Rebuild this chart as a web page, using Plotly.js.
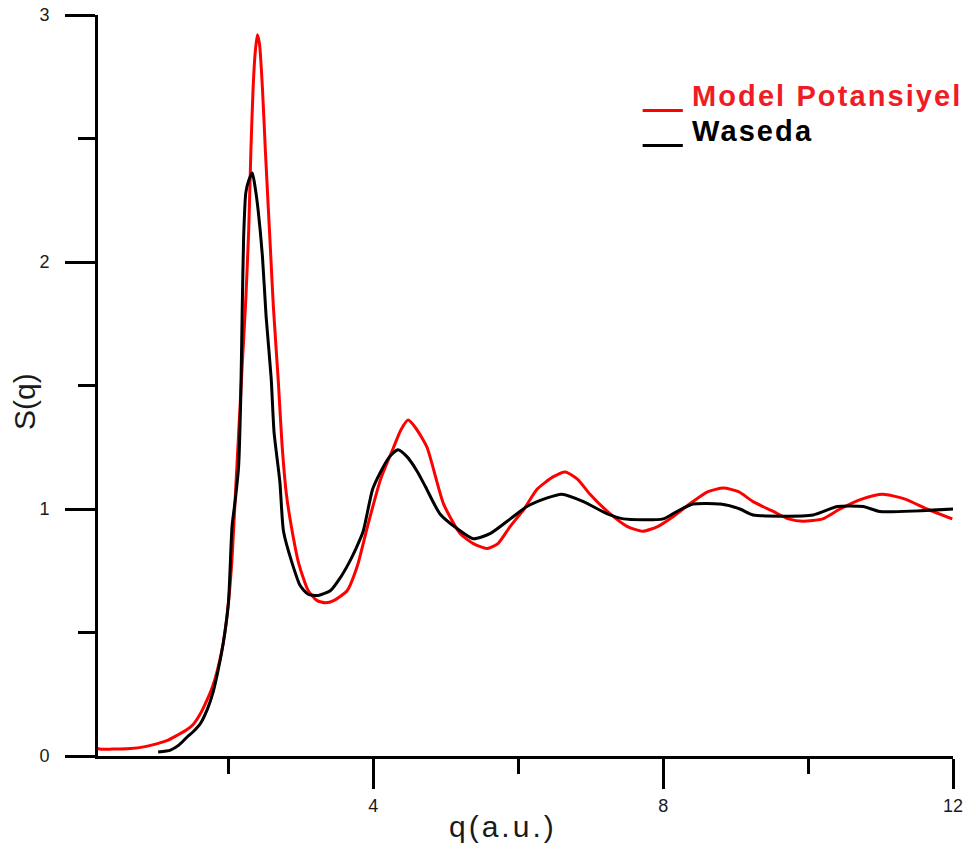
<!DOCTYPE html>
<html>
<head>
<meta charset="utf-8">
<script src="https://cdn.plot.ly/plotly-3.0.1.min.js"></script>
<style>
html,body{margin:0;padding:0;background:#fff;}
#chart{width:976px;height:851px;}
</style>
</head>
<body>
<div id="chart"></div>
<script>
// Model Potansiyel (red)
const qModel = [0.1,0.2,0.4,0.65,0.85,1.02,1.15,1.30,1.42,1.52,1.62,1.71,1.78,1.85,1.93,2.0,2.05,2.10,2.14,2.19,2.24,2.28,2.31,2.34,2.37,2.40,2.43,2.47,2.51,2.55,2.58,2.62,2.69,2.74,2.80,2.88,2.97,3.10,3.22,3.34,3.46,3.64,3.78,3.92,4.10,4.28,4.38,4.48,4.58,4.74,4.97,5.20,5.38,5.57,5.72,5.89,6.08,6.26,6.48,6.65,6.82,6.99,7.27,7.50,7.72,7.93,8.14,8.41,8.62,8.83,9.04,9.24,9.52,9.73,9.93,10.20,10.44,10.74,11.03,11.34,11.64,11.99];
const sModel = [0.07,0.03,0.028,0.03,0.038,0.05,0.062,0.085,0.105,0.13,0.175,0.23,0.28,0.35,0.46,0.62,0.80,1.08,1.30,1.58,1.85,2.13,2.45,2.70,2.85,2.92,2.88,2.70,2.45,2.22,2.05,1.82,1.51,1.26,1.06,0.91,0.78,0.67,0.63,0.62,0.63,0.67,0.77,0.93,1.12,1.25,1.32,1.36,1.33,1.25,1.02,0.90,0.86,0.84,0.86,0.93,1.00,1.08,1.13,1.15,1.12,1.06,0.98,0.93,0.91,0.93,0.97,1.03,1.07,1.085,1.07,1.03,0.99,0.96,0.95,0.96,1.00,1.04,1.06,1.04,1.00,0.96];

// Waseda (black)
const qWaseda = [1.03,1.20,1.32,1.43,1.52,1.61,1.71,1.79,1.86,1.93,2.0,2.05,2.10,2.14,2.17,2.19,2.21,2.24,2.28,2.33,2.37,2.41,2.47,2.52,2.59,2.63,2.71,2.76,2.88,2.99,3.10,3.24,3.41,3.54,3.66,3.76,3.86,3.99,4.10,4.22,4.34,4.47,4.61,4.72,4.92,5.16,5.38,5.61,5.89,6.12,6.40,6.60,6.90,7.23,7.45,8.0,8.19,8.41,8.79,9.06,9.24,10.07,10.40,10.76,10.99,12.0];
const sWaseda = [0.016,0.024,0.045,0.077,0.10,0.13,0.19,0.26,0.35,0.46,0.62,0.93,1.05,1.17,1.45,1.80,2.10,2.28,2.33,2.36,2.30,2.21,2.02,1.78,1.53,1.31,1.11,0.91,0.78,0.69,0.655,0.65,0.67,0.72,0.78,0.84,0.91,1.08,1.15,1.21,1.24,1.21,1.15,1.09,0.98,0.92,0.88,0.90,0.96,1.01,1.045,1.06,1.03,0.98,0.96,0.96,0.99,1.02,1.02,1.00,0.976,0.976,1.01,1.01,0.99,1.00];

const legendNames = ["Model Potansiyel", "Waseda"];
const seriesColors = ["#ff0000", "#000000"];
const xTitle = "q(a.u.)";
const yTitle = "S(q)";

const xMajor = [4, 8, 12];
const xMinor = [2, 6, 10];
const yMajor = [0, 1, 2, 3];
const yMinor = [0.5, 1.5, 2.5];

const traces = [
  {x: qModel, y: sModel, name: legendNames[0], mode: "lines",
   line: {color: seriesColors[0], width: 3, shape: "spline", smoothing: 0.6}},
  {x: qWaseda, y: sWaseda, name: legendNames[1], mode: "lines",
   line: {color: seriesColors[1], width: 3, shape: "spline", smoothing: 0.6}}
];

const FONT = "Arial, 'Liberation Sans', sans-serif";
const tickFont = {family: FONT, size: 18, color: "#1a1a1a"};
const layout = {
  width: 976, height: 851,
  margin: {l: 98, r: 23, t: 15, b: 95},
  paper_bgcolor: "#ffffff", plot_bgcolor: "#ffffff",
  showlegend: false,
  xaxis: {
    range: [0.2, 12], showgrid: false, zeroline: false,
    showline: true, linecolor: "#000", linewidth: 3,
    tickmode: "array", tickvals: xMajor, ticktext: xMajor.map(String),
    ticks: "outside", ticklen: 30, tickwidth: 3, tickcolor: "#000",
    ticklabelstandoff: 1,
    minor: {tickmode: "array", tickvals: xMinor, ticks: "outside", ticklen: 15, tickwidth: 3, tickcolor: "#000"},
    tickfont: tickFont
  },
  yaxis: {
    range: [0, 3], showgrid: false, zeroline: false,
    showline: true, linecolor: "#000", linewidth: 3,
    tickmode: "array", tickvals: yMajor, ticktext: yMajor.map(String),
    ticks: "outside", ticklen: 30, tickwidth: 3, tickcolor: "#000",
    ticklabelstandoff: 12,
    minor: {tickmode: "array", tickvals: yMinor, ticks: "outside", ticklen: 17, tickwidth: 3, tickcolor: "#000"},
    tickfont: tickFont
  },
  shapes: [
    {type: "line", xref: "paper", yref: "paper", x0: 0.637, x1: 0.684, y0: 0.871, y1: 0.871,
     line: {color: seriesColors[0], width: 3}},
    {type: "line", xref: "paper", yref: "paper", x0: 0.637, x1: 0.684, y0: 0.824, y1: 0.824,
     line: {color: seriesColors[1], width: 3}}
  ],
  annotations: [
    {xref: "paper", yref: "paper", x: 0.692, y: 0.891, xanchor: "left", yanchor: "middle",
     text: "<b>" + legendNames[0] + "</b>", showarrow: false,
     font: {family: FONT, size: 29, color: "#ee1c25"}},
    {xref: "paper", yref: "paper", x: 0.692, y: 0.843, xanchor: "left", yanchor: "middle",
     text: "<b>" + legendNames[1] + "</b>", showarrow: false,
     font: {family: FONT, size: 29, color: "#000000"}},
    {xref: "paper", yref: "paper", x: (447 - 98) / 855, y: (756 - 827) / 741, xanchor: "left", yanchor: "middle",
     text: xTitle, showarrow: false,
     font: {family: FONT, size: 30, color: "#1a1a1a"}},
    {xref: "paper", yref: "paper", x: (25 - 98) / 855, y: (756 - 402) / 741, xanchor: "center", yanchor: "middle",
     text: yTitle, showarrow: false, textangle: -90,
     font: {family: FONT, size: 30, color: "#1a1a1a"}}
  ]
};

Plotly.newPlot("chart", traces, layout, {displayModeBar: false, staticPlot: true}).then(function (gd) {
  // widen the letter spacing of some labels, keeping their left edge in place
  const spacing = [2.1, 2.1, 3, 0];
  const texts = [ "<b>" + legendNames[0] + "</b>", "<b>" + legendNames[1] + "</b>", xTitle, yTitle ];
  gd.querySelectorAll(".annotation-text").forEach(function (el, i) {
    const sp = spacing[i];
    if (!sp) return;
    const n = el.textContent.length;
    el.style.letterSpacing = sp + "px";
    const dx = n * sp / 2;
    const prev = el.getAttribute("transform") || "";
    el.setAttribute("transform", prev + " translate(" + dx + ",0)");
  });
});
</script>
</body>
</html>
